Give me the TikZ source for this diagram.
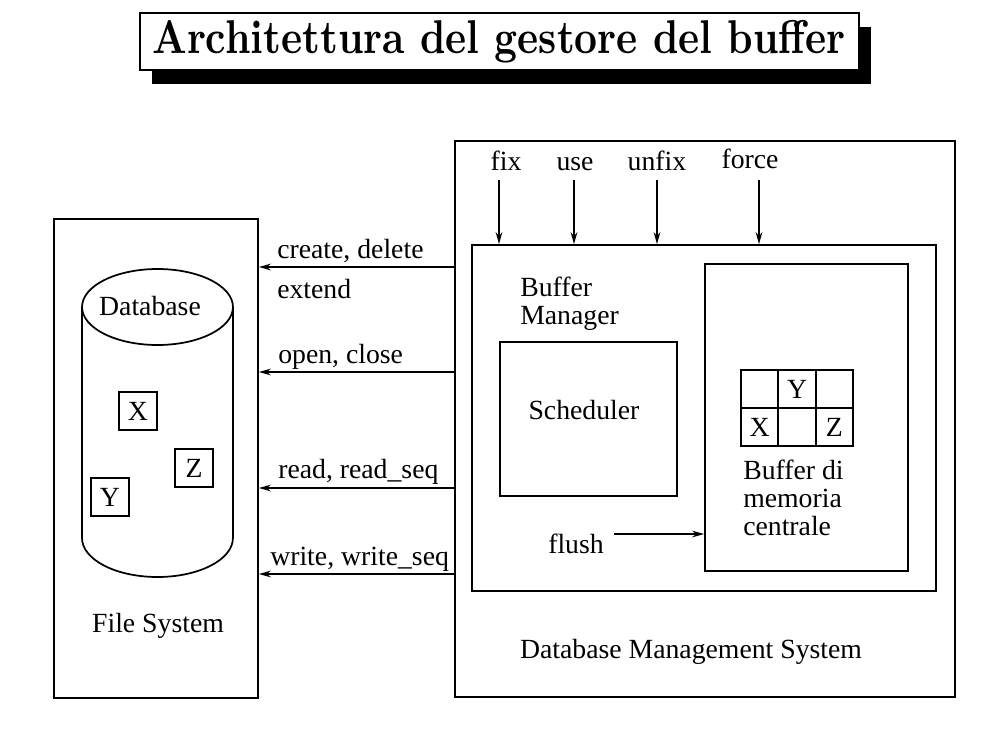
\documentclass[tikz,border=0pt]{standalone}
\usepackage{fontspec}
\usepackage{graphicx}
\newfontfamily\tnr{Liberation Serif}
\usetikzlibrary{arrows.meta,fit,shadows}
\begin{document}
\begin{tikzpicture}[x=0.75pt,y=-0.75pt,
  box/.style={draw, line width=1.3pt, inner sep=0pt},
  lbl/.style={font=\tnr\fontsize{20.8}{28}\selectfont, inner sep=0pt},
  arr/.style={line width=1.2pt, -{Stealth[length=9pt,width=5pt]}},
  cell/.style={draw, line width=1.3pt, minimum width=28pt, minimum height=28.5pt, inner sep=0pt, font=\tnr\fontsize{20.8}{24}\selectfont},
  dbitem/.style={draw, line width=1.3pt, minimum width=28.5pt, minimum height=28pt, inner sep=0pt, font=\tnr\fontsize{20.8}{24}\selectfont}]
\useasboundingbox (0,0) rectangle (994,728);
\fill[white] (0,0) rectangle (994,728);

% title
\node[box, line width=1pt, fill=white,
  drop shadow={shadow xshift=9pt, shadow yshift=-10.5pt, opacity=1, fill=black},
  fit={(140,13) (859,70)}] (title) {};
\node[inner sep=0pt] (titletext) at (499,42)
  {\resizebox*{520pt}{32pt}{\bfseries Architettura del gestore del buffer}};

% file system
\node[box, fit={(54,219) (258,698)}] (fs) {};
\draw[line width=1.3pt] (157.5,307) ellipse [x radius=56.6pt, y radius=28.5pt];
\coordinate (cl) at (82,307);
\coordinate (cr) at (233,307);
\coordinate (cbl) at (82,538);
\coordinate (cbr) at (233,538);
\draw[line width=1.3pt] (cl) -- (cbl) arc[start angle=180, end angle=360, x radius=56.6pt, y radius=29.25pt] -- (cr);
\node[lbl, anchor=base] (db) at (150,315) {Database};
\node[dbitem] (dx) at (138,411) {X};
\node[dbitem] (dz) at (194,468) {Z};
\node[dbitem] (dy) at (110,497) {Y};
\node[lbl, anchor=base] (fslbl) at (158,632) {File System};

% DBMS
\node[box, fit={(455,141) (955,697)}] (dbms) {};
\node[box, fit={(472,245) (936,591)}] (bm) {};
\node[box, fit={(705,264) (908,571)}] (buf) {};
\node[box, fit={(500,342) (677,496)}] (sched) {};
\node[lbl, anchor=base] (schedlbl) at (584,419) {Scheduler};
\node[lbl, anchor=base west] (bmlbl1) at (520,296) {Buffer};
\node[lbl, anchor=base west] (bmlbl2) at (520,324) {Manager};
\node[lbl, anchor=base] (dbmslbl) at (691,658) {Database Management System};

% buffer grid
\node[cell] (g11) at (759.7,389) {};
\node[cell] (g12) at (797,389) {Y};
\node[cell] (g13) at (834.3,389) {};
\node[cell] (g21) at (759.7,427) {X};
\node[cell] (g22) at (797,427) {};
\node[cell] (g23) at (834.3,427) {Z};
\node[lbl, anchor=base west] (buflbl1) at (743,479) {Buffer di};
\node[lbl, anchor=base west] (buflbl2) at (743,507) {memoria};
\node[lbl, anchor=base west] (buflbl3) at (743,535) {centrale};

% top calls
\node[lbl, anchor=base] (fix) at (506,170) {fix};
\node[lbl, anchor=base] (use) at (575,170) {use};
\node[lbl, anchor=base] (unfix) at (657,170) {unfix};
\node[lbl, anchor=base] (force) at (750,168) {force};
\coordinate (t1) at (499,180);
\coordinate (t2) at (574,180);
\coordinate (t3) at (657,180);
\coordinate (t4) at (759,180);
\draw[arr] (t1) -- (t1 |- bm.north);
\draw[arr] (t2) -- (t2 |- bm.north);
\draw[arr] (t3) -- (t3 |- bm.north);
\draw[arr] (t4) -- (t4 |- bm.north);

% flush
\node[lbl, anchor=base west] (flush) at (548,553) {flush};
\coordinate (fl) at (614,534);
\draw[arr] (fl) -- (fl -| buf.west);

% file system calls
\coordinate (y1) at (0,267);
\coordinate (y2) at (0,372);
\coordinate (y3) at (0,488);
\coordinate (y4) at (0,574);
\draw[arr] (dbms.west |- y1) -- (fs.east |- y1);
\draw[arr] (dbms.west |- y2) -- (fs.east |- y2);
\draw[arr] (dbms.west |- y3) -- (fs.east |- y3);
\draw[arr] (dbms.west |- y4) -- (fs.east |- y4);
\node[lbl, anchor=base west] (c1) at (277,258) {create, delete};
\node[lbl, anchor=base west] (c1b) at (277,298) {extend};
\node[lbl, anchor=base west] (c2) at (278,363) {open, close};
\node[lbl, anchor=base west] (c3) at (278,478) {read, read\_seq};
\node[lbl, anchor=base west] (c4) at (270,565) {write, write\_seq};
\end{tikzpicture}
\end{document}
